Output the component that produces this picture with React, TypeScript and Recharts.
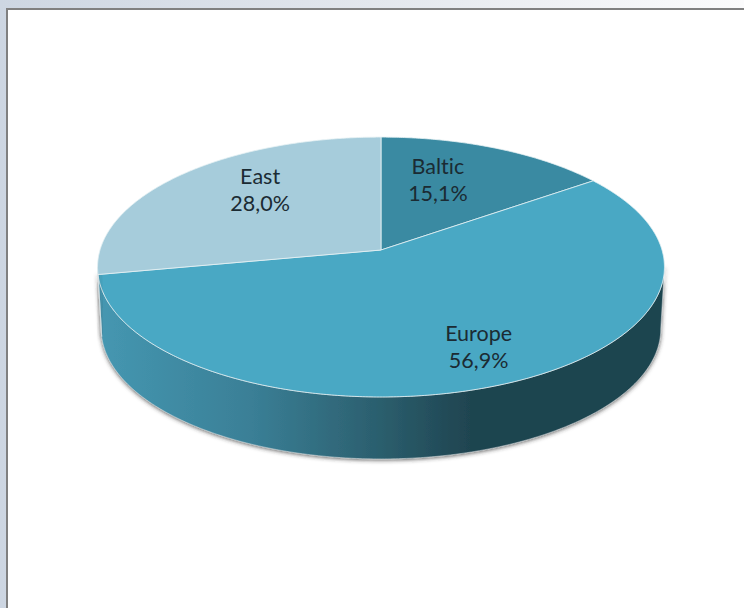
import React from "react";
import { PieChart, Pie } from "recharts";

// Regions and their share of the total, clockwise from twelve o'clock.
const regions = ["Baltic", "Europe", "East"];
const shares = [15.1, 56.9, 28.0];
const sliceColors = ["#3a8aa2", "#49a8c4", "#a6ccdb"];

const table = regions.map((name, i) => ({ name, value: shares[i], fill: sliceColors[i] }));

// Tilt of the disc: the circle is seen through a simple perspective.
const FLATTEN = 127.7 / 281;
const PERSPECTIVE = -0.131;
const DEPTH = 62;
const FLOOR_SCALE = 0.987;

// Where each caption sits: fraction of the radius along the slice's middle, plus a lift.
const captionPlacement: Record<string, { reach: number; lift: number }> = {
  Baltic: { reach: 0.495, lift: 20 },
  Europe: { reach: 0.775, lift: 6 },
  East: { reach: 0.605, lift: 15 },
};

const rad = (d: number) => (d * Math.PI) / 180;

// Projects a point of the pie (clock angle in degrees, radius) onto the tilted disc.
function project(cx: number, cy: number, r: number, clock: number) {
  const u = Math.sin(rad(clock));
  const v = -Math.cos(rad(clock));
  const w = 1 + PERSPECTIVE * v;
  return { x: cx + (r * u) / w, y: cy + (r * FLATTEN * v) / w };
}

function rimPoints(cx: number, cy: number, r: number, from: number, to: number) {
  const n = Math.max(2, Math.ceil(Math.abs(to - from) * 2));
  const pts = [];
  for (let i = 0; i <= n; i++) pts.push(project(cx, cy, r, from + ((to - from) * i) / n));
  return pts;
}

const toPath = (pts: { x: number; y: number }[]) =>
  pts.map((p, i) => `${i ? "L" : "M"}${p.x.toFixed(2)} ${p.y.toFixed(2)}`).join(" ");

// Slice shape: the side wall (only on the part of the rim facing the viewer), then the top face.
function DiscSlice(props: any) {
  const { cx, cy, outerRadius, startAngle, endAngle, fill } = props;
  const from = 90 - startAngle;
  const to = 90 - endAngle;
  const tangent = (Math.acos(PERSPECTIVE) * 180) / Math.PI;
  const wallFrom = Math.max(from, tangent);
  const wallTo = Math.min(to, 360 - tangent);

  let wall = null;
  if (wallTo > wallFrom) {
    const upper = rimPoints(cx, cy, outerRadius, wallFrom, wallTo);
    const lower = rimPoints(cx, cy, outerRadius, wallFrom, wallTo)
      .map((p) => ({ x: cx + (p.x - cx) * FLOOR_SCALE, y: p.y + DEPTH }))
      .reverse();
    wall = (
      <path
        d={`${toPath(upper)} ${toPath(lower).replace("M", "L")} Z`}
        fill="url(#wallShade)"
        stroke="#dfe5e7"
        strokeWidth={0.5}
        filter="url(#wallShadow)"
      />
    );
  }

  const face = `M${cx} ${cy} ${toPath(rimPoints(cx, cy, outerRadius, from, to)).replace("M", "L")} Z`;
  return (
    <g>
      <defs>
        <linearGradient id="wallShade" gradientUnits="userSpaceOnUse" x1={cx - outerRadius} y1={0} x2={cx + outerRadius} y2={0}>
          <stop offset="0" stopColor="#4597b1" />
          <stop offset="0.27" stopColor="#3a7f96" />
          <stop offset="0.5" stopColor="#2b5e6d" />
          <stop offset="0.66" stopColor="#1f4450" />
          <stop offset="1" stopColor="#1f444f" />
        </linearGradient>
        <filter id="wallShadow" x="-10%" y="-10%" width="120%" height="125%">
          <feDropShadow dx={0} dy={1} stdDeviation={2} floodColor="#333" floodOpacity={0.8} />
        </filter>
      </defs>
      {wall}
      <path d={face} fill={fill} stroke="#e6f1f4" strokeWidth={1} strokeOpacity={0.8} strokeLinejoin="round" />
    </g>
  );
}

// Two-line caption: region name over its share, with a decimal comma.
function Caption(props: any) {
  const { cx, cy, outerRadius, midAngle, name, value } = props;
  const place = captionPlacement[name];
  const p = project(cx, cy, outerRadius * place.reach, 90 - midAngle);
  const y = p.y - place.lift;
  const common = {
    x: p.x,
    textAnchor: "middle" as const,
    fontFamily: "Lato, 'Open Sans', sans-serif",
    fontSize: 21.5,
    fill: "#1b2b33",
    style: { fontVariantLigatures: "none" },
  };
  return (
    <g>
      <text {...common} y={y - 6}>{name}</text>
      <text {...common} y={y + 21}>{value.toFixed(1).replace(".", ",")}%</text>
    </g>
  );
}

export default function App() {
  return (
    <div
      style={{
        position: "absolute",
        left: 0,
        top: 0,
        width: 744,
        height: 608,
        overflow: "hidden",
        background: "linear-gradient(90deg, #cdd6e2 0%, #e3e7ed 50%, #fbfbfc 100%)",
      }}
    >
      <div
        style={{
          position: "absolute",
          left: 6,
          top: 8,
          width: 738,
          height: 600,
          boxSizing: "border-box",
          background: "#fff",
          borderTop: "2px solid #808080",
          borderLeft: "2px solid #808080",
        }}
      />
      <div style={{ position: "absolute", left: 0, top: 0 }}>
        <PieChart width={744} height={608} margin={{ top: 0, right: 0, bottom: 0, left: 0 }}>
          <Pie
            data={table}
            dataKey="value"
            nameKey="name"
            cx={381}
            cy={250}
            outerRadius={281}
            startAngle={90}
            endAngle={-270}
            stroke="none"
            isAnimationActive={false}
            shape={DiscSlice}
            label={Caption}
            labelLine={false}
          />
        </PieChart>
      </div>
    </div>
  );
}
